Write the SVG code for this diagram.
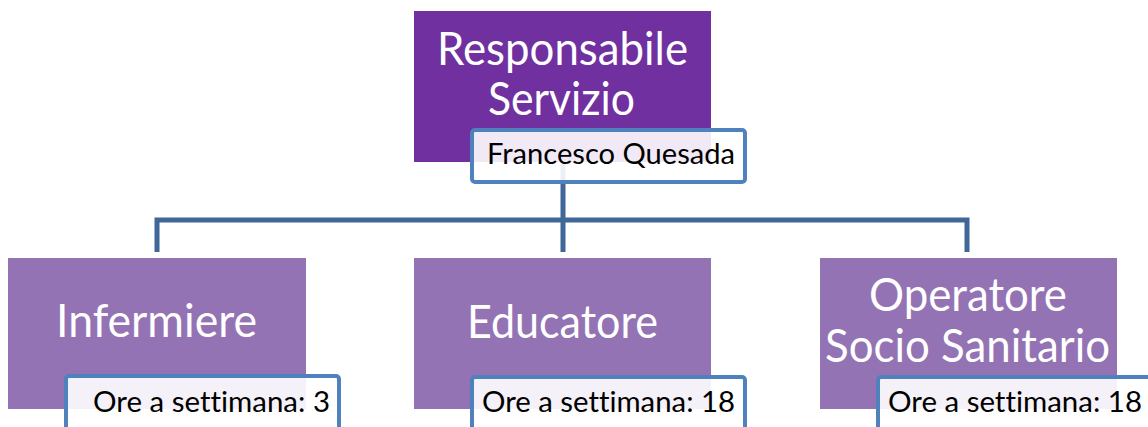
<svg xmlns="http://www.w3.org/2000/svg" width="1148" height="427" viewBox="0 0 1148 427">
<style>
.top{fill:#7030a0}
.child{fill:#9473b5}
.big{font-family:Lato,"Open Sans","Liberation Sans",sans-serif;font-size:46px;fill:#ffffff;font-variant-ligatures:none}
.lbl{fill:#ffffff;fill-opacity:0.9;stroke:#4f81bd;stroke-width:4}
.lt{font-family:Lato,"Open Sans","Liberation Sans",sans-serif;font-size:28px;fill:#000000;font-variant-ligatures:none}
.conn{fill:none;stroke:#3f6797;stroke-width:5}
</style>
<rect width="1148" height="427" fill="#ffffff"/>
<g id="connectors">
<path class="conn" d="M563 162 V220 M157 252 V220 H967 V252 M563 220 V252"/>
</g>
<g id="node-responsabile">
<rect class="top" x="414" y="11" width="297" height="151"/>
<text class="big" x="437" y="65" textLength="251" lengthAdjust="spacingAndGlyphs">Responsabile</text>
<text class="big" x="488" y="115" textLength="147" lengthAdjust="spacingAndGlyphs">Servizio</text>
<rect class="lbl" x="472" y="130" width="273" height="52" rx="3"/>
<text class="lt" x="487" y="164" textLength="248" lengthAdjust="spacingAndGlyphs">Francesco Quesada</text>
</g>
<g id="node-infermiere">
<rect class="child" x="8" y="258" width="298" height="151"/>
<text class="big" x="56" y="337" textLength="201" lengthAdjust="spacingAndGlyphs">Infermiere</text>
<rect class="lbl" x="66" y="376" width="273" height="70" rx="3"/>
<text class="lt" x="93" y="412" textLength="237" lengthAdjust="spacingAndGlyphs">Ore a settimana: 3</text>
</g>
<g id="node-educatore">
<rect class="child" x="414" y="258" width="297" height="151"/>
<text class="big" x="467" y="338" textLength="191" lengthAdjust="spacingAndGlyphs">Educatore</text>
<rect class="lbl" x="472" y="377" width="273" height="70" rx="3"/>
<text class="lt" x="482" y="412" textLength="253" lengthAdjust="spacingAndGlyphs">Ore a settimana: 18</text>
</g>
<g id="node-operatore">
<rect class="child" x="820" y="258" width="297" height="151"/>
<text class="big" x="869" y="311" textLength="198" lengthAdjust="spacingAndGlyphs">Operatore</text>
<text class="big" x="825" y="362" textLength="285" lengthAdjust="spacingAndGlyphs">Socio Sanitario</text>
<rect class="lbl" x="878" y="377" width="273" height="70" rx="3"/>
<text class="lt" x="888" y="412" textLength="254" lengthAdjust="spacingAndGlyphs">Ore a settimana: 18</text>
</g>
</svg>
